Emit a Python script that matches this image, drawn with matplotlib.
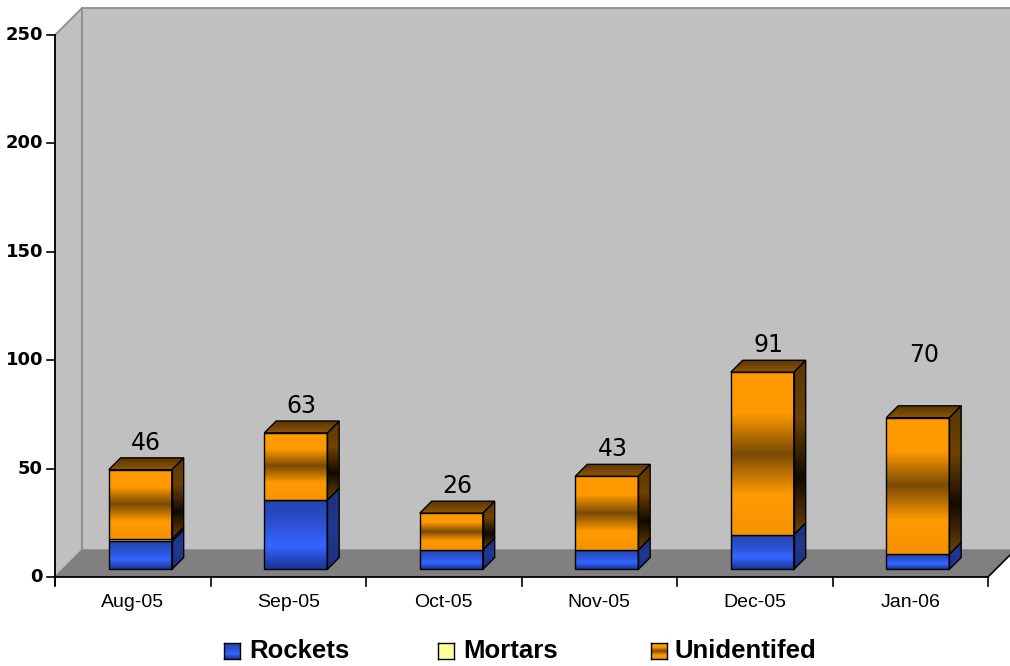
import numpy as np
import matplotlib.pyplot as plt
from matplotlib.patches import Polygon
from matplotlib.colors import LinearSegmentedColormap

# monthly counts, stacked bottom to top
months = ["Aug-05", "Sep-05", "Oct-05", "Nov-05", "Dec-05", "Jan-06"]
rockets = [13, 32, 9, 9, 16, 7]
mortars = [1, 0, 0, 0, 0, 0]
unidentified = [32, 31, 17, 34, 75, 63]
series_names = ["Rockets", "Mortars", "Unidentifed"]
y_ticks = [0, 50, 100, 150, 200, 250]

W_PX, H_PX = 1010, 666
PLOT_L, PLOT_R, PLOT_B, PLOT_T = 55, 988, 577, 35   # front plane in pixels
DEPTH_PX = 27
X_PER_PX = 6 / (PLOT_R - PLOT_L)
Y_PER_PX = 250 / (PLOT_B - PLOT_T)
DX = DEPTH_PX * X_PER_PX
DY = DEPTH_PX * Y_PER_PX
BAR_W = 0.405
D0, D1 = 0.28, 0.72          # front / back depth of the columns

STYLES = {
    "Rockets": dict(front=["#1B3396", "#3366FF", "#2B4FCF", "#2343AE"],
                    side=["#1B2F7E", "#22398F", "#1B2F7E"],
                    top=["#2A4AB8", "#1F3A96"]),
    "Mortars": dict(front=["#FFFF99", "#FFFF99"],
                    side=["#CCCC70", "#CCCC70"],
                    top=["#FFFFAA", "#EEEE88"]),
    "Unidentifed": dict(front=["#F49200", "#FF9A00", "#7A4A05", "#FF9A00", "#FF9900"],
                        side=["#6E4200", "#120A00", "#6E4200", "#5A3600"],
                        top=["#8C5608", "#5C3700"]),
}


def fig_xy(px, py):
    return px / W_PX, 1 - py / H_PX


def shift(pts, d):
    return [(x + d * DX, y + d * DY) for x, y in pts]


def grad_poly(ax, verts, colors, z, edge="black", lw=1.0):
    poly = Polygon(verts, closed=True, facecolor="none", edgecolor="none", zorder=z)
    ax.add_patch(poly)
    xs = [v[0] for v in verts]
    ys = [v[1] for v in verts]
    cmap = LinearSegmentedColormap.from_list("g", colors)
    im = ax.imshow(np.linspace(0, 1, 256).reshape(-1, 1), cmap=cmap,
                   extent=(min(xs), max(xs), min(ys), max(ys)), origin="lower",
                   aspect="auto", interpolation="bilinear", zorder=z)
    im.set_clip_path(poly)
    ax.add_patch(Polygon(verts, closed=True, facecolor="none", edgecolor=edge,
                         linewidth=lw, zorder=z + 0.1, clip_on=False))


fig = plt.figure(figsize=(W_PX / 100, H_PX / 100), dpi=100)
fl, fb = fig_xy(PLOT_L, PLOT_B)
fr, ft = fig_xy(PLOT_R, PLOT_T)
ax = fig.add_axes([fl, fb, fr - fl, ft - fb])
ax.set_axis_off()

# walls and floor
wall_gray, wall_edge = "#C0C0C0", "#8A8A8A"
ax.add_patch(Polygon([(DX, DY), (6 + DX + 1, DY), (6 + DX + 1, 250 + DY), (DX, 250 + DY)],
                     facecolor=wall_gray, edgecolor=wall_edge, lw=1.2, zorder=1, clip_on=False))
ax.add_patch(Polygon([(0, 0), (0, 250), (DX, 250 + DY), (DX, DY)],
                     facecolor=wall_gray, edgecolor=wall_edge, lw=1.2, zorder=1, clip_on=False))
ax.add_patch(Polygon([(0, 0), (6, 0), (6 + DX, DY), (DX, DY)],
                     facecolor="#808080", edgecolor="none", zorder=2, clip_on=False))
ax.plot([6, 6 + DX], [0, DY], color="black", lw=1.2, zorder=2.5, clip_on=False)

# axes lines and ticks
ax.plot([0, 0], [-8 * Y_PER_PX, 250], color="black", lw=1.3, zorder=5, clip_on=False)
ax.plot([0, 6], [0, 0], color="black", lw=1.3, zorder=5, clip_on=False)
for v in y_ticks:
    ax.plot([-8 * X_PER_PX, 0], [v, v], color="black", lw=1.2, zorder=5, clip_on=False)
    ax.text(-12 * X_PER_PX, v, str(v), ha="right", va="center", fontsize=13,
            fontweight="bold", family="DejaVu Sans", zorder=6)
for k in range(7):
    ax.plot([k, k], [0, -9 * Y_PER_PX], color="black", lw=1.2, zorder=5, clip_on=False)
for i, m in enumerate(months):
    ax.text(i + 0.5, -17 * Y_PER_PX, m, ha="center", va="top", fontsize=14,
            family="Liberation Sans", zorder=6)

# stacked columns
stack = [rockets, mortars, unidentified]
label_nudge = [0, 0, 0, 0, 0, 16.5]
for i in range(len(months)):
    x0 = i + 0.5 - BAR_W / 2
    x1 = x0 + BAR_W
    base = 0
    segs = []
    for name, vals in zip(series_names, stack):
        if vals[i] > 0:
            segs.append((name, base, base + vals[i]))
        base += vals[i]
    for j, (name, lo, hi) in enumerate(segs):
        st = STYLES[name]
        z = 10 + i * 10 + j * 2
        front = shift([(x0, lo), (x1, lo), (x1, hi), (x0, hi)], D0)
        grad_poly(ax, front, st["front"], z)
        side = [shift([(x1, lo)], D0)[0], shift([(x1, lo)], D1)[0],
                shift([(x1, hi)], D1)[0], shift([(x1, hi)], D0)[0]]
        grad_poly(ax, side, st["side"], z)
        if j == len(segs) - 1:
            top = [shift([(x0, hi)], D0)[0], shift([(x1, hi)], D0)[0],
                   shift([(x1, hi)], D1)[0], shift([(x0, hi)], D1)[0]]
            grad_poly(ax, top, st["top"], z + 1)
    total = base
    cx = (x0 + x1) / 2 + (D0 + D1) / 2 * DX
    ax.text(cx, total + D1 * DY + 1.5 + label_nudge[i], str(total), ha="center",
            va="bottom", fontsize=17, family="DejaVu Sans", zorder=100)

ax.set_xlim(0, 6)
ax.set_ylim(0, 250)

# legend
legend_px = [(224, 249), (438, 463), (651, 675)]
for name, (mx, tx) in zip(series_names, legend_px):
    lx, ly = fig_xy(mx, 659)
    sax = fig.add_axes([lx, ly, 16 / W_PX, 16 / H_PX])
    sax.imshow(np.linspace(0, 1, 64).reshape(-1, 1),
               cmap=LinearSegmentedColormap.from_list("l", STYLES[name]["front"]),
               origin="lower", aspect="auto", extent=(0, 1, 0, 1))
    sax.set_xticks([])
    sax.set_yticks([])
    for sp in sax.spines.values():
        sp.set_linewidth(1.0)
        sp.set_color("black")
    tx_f, ty_f = fig_xy(tx, 651)
    fig.text(tx_f, ty_f, name, ha="left", va="center", fontsize=18.5,
             fontweight="bold", family="Liberation Sans")

fig.savefig("out.png", dpi=100)
